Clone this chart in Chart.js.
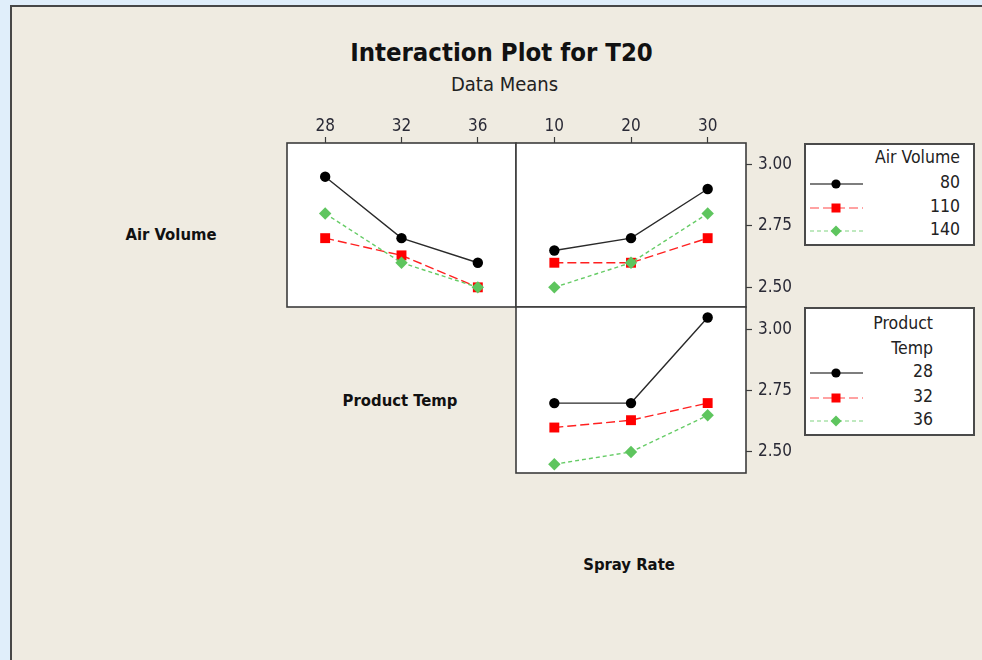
<!DOCTYPE html>
<html>
<head>
<meta charset="utf-8">
<script src="https://cdn.jsdelivr.net/npm/chart.js@4.4.1/dist/chart.umd.min.js"></script>
<style>
html,body{margin:0;padding:0;width:982px;height:660px;overflow:hidden;background:#e0eefa;font-family:'DejaVu Sans Condensed','DejaVu Sans',sans-serif;}
#frame{position:absolute;left:10px;top:5px;right:0;bottom:0;background:#efebe1;border-left:2px solid #474747;border-top:2px solid #474747;}
.cv{position:absolute;}
.t{position:absolute;white-space:nowrap;line-height:1;transform:translate(-50%,-50%);color:#111;}
.r{position:absolute;white-space:nowrap;line-height:1;transform:translateY(-50%);color:#222;font-size:17.5px;text-align:right;}
.box{position:absolute;background:#fff;border:2px solid #4a4a4a;box-sizing:border-box;}
.sw{position:absolute;}
</style>
</head>
<body>
<div id="frame"></div>

<div class="t" style="left:501.5px;top:52.5px;font-size:25.5px;font-weight:bold;">Interaction Plot for T20</div>
<div class="t" style="left:504.5px;top:84px;font-size:20px;color:#222;">Data Means</div>

<div class="t" style="left:171px;top:235px;font-size:16.5px;font-weight:bold;">Air Volume</div>
<div class="t" style="left:400px;top:401px;font-size:16.5px;font-weight:bold;">Product Temp</div>
<div class="t" style="left:629px;top:565px;font-size:16.5px;font-weight:bold;">Spray Rate</div>

<canvas id="cA" class="cv" style="left:277px;top:100px;" width="249" height="217"></canvas>
<canvas id="cB" class="cv" style="left:506px;top:100px;" width="300" height="217"></canvas>
<canvas id="cC" class="cv" style="left:506px;top:297px;" width="300" height="186"></canvas>

<div class="box" style="left:804px;top:143px;width:171px;height:103px;"></div>
<div class="box" style="left:804px;top:307px;width:171px;height:129px;"></div>
<div id="leg"></div>

<script>
// factor levels
const productTemp = ['28', '32', '36'];
const sprayRate = ['10', '20', '30'];
const airVolume = ['80', '110', '140'];
const yTicks = [2.50, 2.75, 3.00];

// means of T20, Air Volume lines across Product Temp
const av80_pt = [2.95, 2.70, 2.60];
const av110_pt = [2.70, 2.63, 2.50];
const av140_pt = [2.80, 2.60, 2.50];
// Air Volume lines across Spray Rate
const av80_sr = [2.65, 2.70, 2.90];
const av110_sr = [2.60, 2.60, 2.70];
const av140_sr = [2.50, 2.60, 2.80];
// Product Temp lines across Spray Rate
const pt28_sr = [2.70, 2.70, 3.05];
const pt32_sr = [2.60, 2.63, 2.70];
const pt36_sr = [2.45, 2.50, 2.65];

const sty = [
  {line:'#2a2a2a', pt:'#000000', dash:[], shape:'circle', r:5.2, w:1.4},
  {line:'#ff2020', pt:'#ff0000', dash:[9,4], shape:'rect', r:7, w:1.4},
  {line:'#66cc66', pt:'#5ec55e', dash:[4,3], shape:'rectRot', r:6.2, w:1.4}
];
const FONT = "'DejaVu Sans Condensed','DejaVu Sans',sans-serif";
const TXT = '#2a2a36';

function sets(arrs, names){
  return arrs.map(function(d,i){
    var s=sty[i];
    return {label:names[i], data:d, borderColor:s.line, borderWidth:s.w, borderDash:s.dash,
      pointStyle:s.shape, pointRadius:s.r, pointBackgroundColor:s.pt, pointBorderColor:s.pt,
      pointBorderWidth:0, pointHoverRadius:s.r, order:3-i, tension:0, fill:false};
  });
}

const panelFrame = {
  id:'panelFrame',
  beforeDraw(ch){
    var a=ch.chartArea, c=ch.ctx;
    c.save(); c.fillStyle='#ffffff'; c.fillRect(a.left,a.top,a.right-a.left,a.bottom-a.top); c.restore();
  },
  afterDatasetsDraw(ch){
    var a=ch.chartArea, c=ch.ctx;
    c.save(); c.strokeStyle='#3c3c3c'; c.lineWidth=1.6;
    c.strokeRect(a.left,a.top,a.right-a.left,a.bottom-a.top); c.restore();
  }
};

function mk(id, labels, data, names, o){
  var x = {type:'category', labels:labels, offset:true, display:o.xShow,
    position:'top',
    grid:{drawOnChartArea:false, drawTicks:true, tickLength:6, tickColor:'#3c3c3c', tickWidth:1.2},
    border:{display:false},
    ticks:{font:{family:FONT,size:17}, color:TXT, padding:0, maxRotation:0},
    afterFit:function(s){ s.height = o.xShow ? 43 : 0; s.paddingLeft=0; s.paddingRight=0; }};
  var y = {type:'linear', min:o.min, max:o.max, display:o.yShow, position:'right',
    grid:{drawOnChartArea:false, drawTicks:true, tickLength:6, tickColor:'#3c3c3c', tickWidth:1.2},
    border:{display:false},
    afterBuildTicks:function(s){ s.ticks = yTicks.map(function(v){return {value:v};}); },
    ticks:{font:{family:FONT,size:17}, color:TXT, padding:6, callback:function(v){return Number(v).toFixed(2);}},
    afterFit:function(s){ s.width = o.yShow ? 60 : 0; s.paddingTop=0; s.paddingBottom=0; }};
  return new Chart(document.getElementById(id), {
    type:'line',
    data:{labels:labels, datasets:sets(data, names)},
    options:{responsive:false, animation:false,
      layout:{padding:o.pad},
      plugins:{legend:{display:false}, tooltip:{enabled:false}},
      scales:{x:x, y:y}},
    plugins:[panelFrame]
  });
}

mk('cA', productTemp, [av80_pt, av110_pt, av140_pt], airVolume,
  {xShow:true, yShow:false, min:2.42, max:3.087, pad:{left:10,right:10,top:0,bottom:10}});
mk('cB', sprayRate, [av80_sr, av110_sr, av140_sr], airVolume,
  {xShow:true, yShow:true, min:2.42, max:3.087, pad:{left:10,right:0,top:0,bottom:10}});
mk('cC', sprayRate, [pt28_sr, pt32_sr, pt36_sr], productTemp,
  {xShow:false, yShow:true, min:2.414, max:3.093, pad:{left:10,right:0,top:10,bottom:10}});

// legends
function swatch(i, y){
  var s=sty[i], svg;
  var m = s.shape==='circle' ? '<circle cx="26" cy="7" r="4.6" fill="'+s.pt+'"/>' :
          s.shape==='rect' ? '<rect x="21.5" y="2.5" width="9" height="9" fill="'+s.pt+'"/>' :
          '<polygon points="26,1.5 31.5,7 26,12.5 20.5,7" fill="'+s.pt+'"/>';
  svg = '<svg width="53" height="14"><line x1="0" y1="7" x2="53" y2="7" stroke="'+s.line+'" stroke-width="1.6" stroke-dasharray="'+(s.dash.length?s.dash.join(','):'none')+'" opacity="'+(i?0.55:0.8)+'"/>'+m+'</svg>';
  return '<div class="sw" style="left:810px;top:'+(y-7)+'px;">'+svg+'</div>';
}
function txt(t, right, y){
  return '<div class="r" style="right:'+(982-right)+'px;top:'+y+'px;">'+t+'</div>';
}
var h='';
h += txt('Air Volume', 960, 157.5);
[182.5, 206.5, 230].forEach(function(y,i){ h += swatch(i,y) + txt(airVolume[i], 960, y); });
h += txt('Product', 933, 323.5) + txt('Temp', 933, 348.5);
[372, 396.5, 420].forEach(function(y,i){ h += swatch(i,y) + txt(productTemp[i], 933, y); });
document.getElementById('leg').innerHTML = h;
</script>
</body>
</html>
